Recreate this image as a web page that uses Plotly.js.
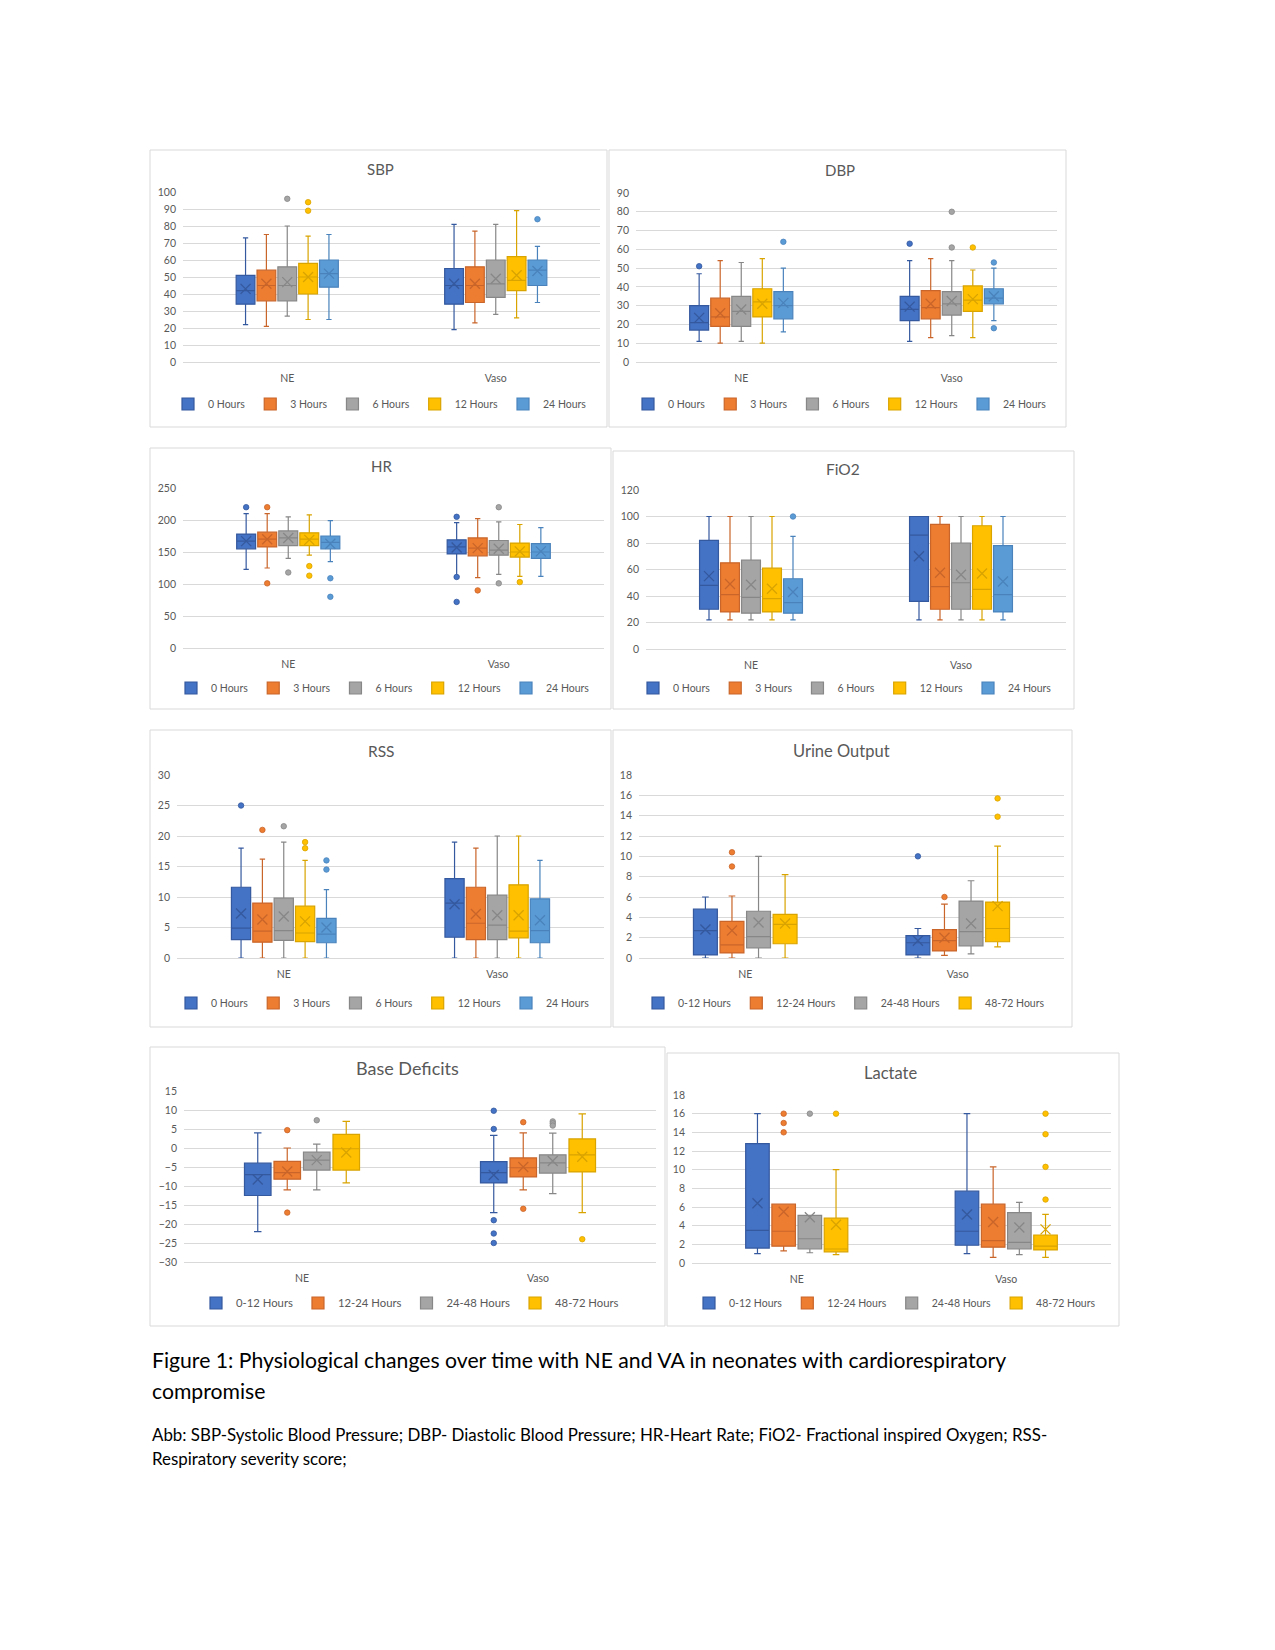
<!DOCTYPE html>
<html><head><meta charset="utf-8">
<script src="https://cdn.plot.ly/plotly-3.0.1.min.js"></script>
<style>html,body{margin:0;padding:0;background:#fff}#chart{width:1275px;height:1650px}</style>
</head><body><div id="chart"></div>
<script>
// ---------- DATA (each inner pair = [NE, Vaso]) ----------
const GROUPS = ['NE', 'Vaso'];
const HOURS5 = ['0 Hours', '3 Hours', '6 Hours', '12 Hours', '24 Hours'];
const HOURS4 = ['0-12 Hours', '12-24 Hours', '24-48 Hours', '48-72 Hours'];

const SBP_LOW  = [[22,19],[21,23],[27,28],[25,26],[25,35]];
const SBP_Q1   = [[34,34],[36,35],[36,38],[40,42],[44,45]];
const SBP_MED  = [[42,45],[45,45],[45,46],[50,48],[52,54]];
const SBP_Q3   = [[51,55],[54,56],[56,60],[58,62],[60,60]];
const SBP_HIGH = [[73,81],[75,77],[80,81],[74,89],[75,68]];
const SBP_MEAN = [[43,46],[46,46],[47,49],[50,51],[52,53.5]];
const SBP_OUT  = [[[],[]],[[],[]],[[96],[]],[[94,89],[]],[[],[84]]];

const DBP_LOW  = [[11,11],[10,13],[11,14],[10,13],[16,22]];
const DBP_Q1   = [[17,22],[19,23],[19,25],[24,27],[23,31]];
const DBP_MED  = [[21,28],[24,29],[27,31],[32,33],[30,34]];
const DBP_Q3   = [[30,35],[34,38],[35,37.5],[39,40.5],[37.5,39]];
const DBP_HIGH = [[47,54],[54,55],[53,54],[55,49],[50,50]];
const DBP_MEAN = [[23.5,29.5],[26,31],[28,32.5],[31,33.5],[31.5,35]];
const DBP_OUT  = [[[51],[63]],[[],[]],[[],[80,61]],[[],[61]],[[64],[53,18]]];

const HR_LOW  = [[123,112],[125,110],[140,115],[145,112],[135,112]];
const HR_Q1   = [[155,147],[158,144],[160,145],[160,142],[155,140]];
const HR_MED  = [[167,158],[170,156],[172,153],[170,150],[165,150]];
const HR_Q3   = [[178,169],[181,172],[183,168],[180,164],[175,163]];
const HR_HIGH = [[210,196],[210,202],[205,197],[208,193],[199,188]];
const HR_MEAN = [[167,157],[170,156],[172,155],[169,151],[163,151]];
const HR_OUT  = [[[220],[205,111,72]],[[220,101],[90]],[[118],[220,101]],[[128,113],[103]],[[109,80],[]]];

const FIO2_LOW  = [[22,22],[22,22],[22,22],[22,22],[22,22]];
const FIO2_Q1   = [[30,36],[28,30],[27,30],[28,30],[27,28]];
const FIO2_MED  = [[48,86],[41,47],[39,50],[38,45],[35,41]];
const FIO2_Q3   = [[82,100],[65,94],[67,80],[61,93],[53,78]];
const FIO2_HIGH = [[100,100],[100,100],[100,100],[100,100],[85,100]];
const FIO2_MEAN = [[55,70],[49,57.5],[48.5,56],[45.5,57],[43,51]];
const FIO2_OUT  = [[[],[]],[[],[]],[[],[]],[[],[]],[[100],[]]];

const RSS_LOW  = [[0,0],[0,0],[0,0],[0,0],[0,0]];
const RSS_Q1   = [[3,3.4],[2.6,3],[2.9,3],[2.7,3.3],[2.5,2.5]];
const RSS_MED  = [[4.9,9],[4.4,5.7],[4.5,5.4],[4.1,4.4],[3.9,4.5]];
const RSS_Q3   = [[11.6,13],[9,11.6],[9.8,10.3],[8.5,12],[6.5,9.7]];
const RSS_HIGH = [[18,19],[16.2,18],[19,20],[16,20],[11.2,16]];
const RSS_MEAN = [[7.3,8.8],[6.3,7.2],[6.8,7],[6,7],[5,6.2]];
const RSS_OUT  = [[[25],[]],[[21],[]],[[21.6],[]],[[19,18],[]],[[16,14.5],[]]];

const URINE_LOW  = [[0,0],[0,0.25],[0,0.4],[0,1.1]];
const URINE_Q1   = [[0.3,0.3],[0.5,0.7],[1,1.2],[1.4,1.6]];
const URINE_MED  = [[2.7,1.5],[1.3,1.7],[2.1,2.6],[3.3,2.9]];
const URINE_Q3   = [[4.8,2.2],[3.6,2.8],[4.6,5.6],[4.3,5.5]];
const URINE_HIGH = [[6,2.9],[6.1,5.3],[10,7.6],[8.2,11]];
const URINE_MEAN = [[2.8,1.7],[2.7,2],[3.5,3.4],[3.4,5.1]];
const URINE_OUT  = [[[],[10]],[[10.4,9],[6]],[[],[]],[[],[15.7,13.9]]];

const BD_LOW  = [[-22,-17],[-11,-11],[-11,-12],[-9.2,-17]];
const BD_Q1   = [[-12.5,-9.2],[-8.2,-7.6],[-5.8,-6.6],[-5.8,-6.3]];
const BD_MED  = [[-7,-6.5],[-6.5,-5.2],[-3.2,-3.9],[-0.2,-1.8]];
const BD_Q3   = [[-4,-3.6],[-3.5,-2.6],[-1.1,-1.8],[3.6,2.4]];
const BD_HIGH = [[4,3.3],[0,4],[1,3.9],[7,9]];
const BD_MEAN = [[-8.3,-7.1],[-6.2,-5],[-3.2,-3.4],[-1.2,-2.3]];
const BD_OUT  = [[[],[9.8,5,-19,-22.5,-25]],[[4.7,-17],[6.8,-16]],[[7.3],[7,6.5,5.9]],[[],[-24]]];

const LAC_LOW  = [[1,1],[1.3,0.6],[1.1,0.9],[0.9,0.6]];
const LAC_Q1   = [[1.6,1.9],[1.8,1.7],[1.5,1.5],[1.2,1.4]];
const LAC_MED  = [[3.5,3.4],[3.4,2.4],[2.6,2.2],[1.5,1.8]];
const LAC_Q3   = [[12.8,7.7],[6.3,6.3],[5.1,5.4],[4.8,3]];
const LAC_HIGH = [[16,16],[6.3,10.3],[5.1,6.5],[10,5.2]];
const LAC_MEAN = [[6.4,5.2],[5.5,4.4],[4.9,3.8],[4.1,3.6]];
const LAC_OUT  = [[[],[]],[[16,15,14],[]],[[16],[]],[[16],[16,13.8,10.3,6.8]]];

// ---------- STYLE / LAYOUT ----------
const FILL = ['#4472C4', '#ED7D31', '#A5A5A5', '#FFC000', '#5B9BD5'];
const LINE = ['#35599E', '#C9652A', '#878787', '#D9A300', '#4A83BC'];
const W = 1275, H = 1650;
const FONT = 'Lato, "Open Sans", sans-serif';
const TXT = '#595959', GRID = '#D9D9D9';

const panels = [
  {title:'SBP', names:HOURS5, d:[SBP_LOW,SBP_Q1,SBP_MED,SBP_Q3,SBP_HIGH,SBP_MEAN,SBP_OUT],
   plot:[183,600,192,362], frame:[150,607,150,427], t:[380,169], leg:[380,404], yr:[0,100], dt:10, ts:15, ls:10.5},
  {title:'DBP', names:HOURS5, d:[DBP_LOW,DBP_Q1,DBP_MED,DBP_Q3,DBP_HIGH,DBP_MEAN,DBP_OUT],
   plot:[636,1057,193,362], frame:[609,1066,150,427], t:[840,170], leg:[840,404], yr:[0,90], dt:10, ts:15, ls:10.5},
  {title:'HR', names:HOURS5, d:[HR_LOW,HR_Q1,HR_MED,HR_Q3,HR_HIGH,HR_MEAN,HR_OUT],
   plot:[183,604,488,648], frame:[150,611,448,709], t:[381,466], leg:[383,688], yr:[0,250], dt:50, ts:15, ls:10.5},
  {title:'FiO2', names:HOURS5, d:[FIO2_LOW,FIO2_Q1,FIO2_MED,FIO2_Q3,FIO2_HIGH,FIO2_MEAN,FIO2_OUT],
   plot:[646,1066,490,649], frame:[613,1074,451,709], t:[843,469], leg:[845,688], yr:[0,120], dt:20, ts:15.5, ls:10.5},
  {title:'RSS', names:HOURS5, d:[RSS_LOW,RSS_Q1,RSS_MED,RSS_Q3,RSS_HIGH,RSS_MEAN,RSS_OUT],
   plot:[177,604,775,958], frame:[150,611,730,1027], t:[381,751], leg:[383,1003], yr:[0,30], dt:5, ts:15.5, ls:10.5},
  {title:'Urine Output', names:HOURS4, d:[URINE_LOW,URINE_Q1,URINE_MED,URINE_Q3,URINE_HIGH,URINE_MEAN,URINE_OUT],
   plot:[639,1064,775,958], frame:[613,1072,730,1027], t:[841,751], leg:[844,1003], yr:[0,18], dt:2, ts:16.5, ls:10.5},
  {title:'Base Deficits', names:HOURS4, d:[BD_LOW,BD_Q1,BD_MED,BD_Q3,BD_HIGH,BD_MEAN,BD_OUT],
   plot:[184,656,1091,1262], frame:[150,665,1047,1326], t:[407,1068], leg:[410,1303], yr:[-30,15], dt:5, ts:18, ls:11.3},
  {title:'Lactate', names:HOURS4, d:[LAC_LOW,LAC_Q1,LAC_MED,LAC_Q3,LAC_HIGH,LAC_MEAN,LAC_OUT],
   plot:[692,1111,1095,1263], frame:[667,1119,1053,1326], t:[890,1073], leg:[895,1303], yr:[0,18], dt:2, ts:16.5, ls:10.5}
];

const traces = [], shapes = [], annotations = [];
const layout = {
  width: W, height: H, margin: {l:0, r:0, t:0, b:0},
  paper_bgcolor: '#fff', plot_bgcolor: '#fff',
  font: {family: FONT, color: TXT, size: 11},
  showlegend: true, boxmode: 'overlay', hovermode: false
};

panels.forEach((p, k) => {
  const n = k + 1, ax = n === 1 ? '' : String(n);
  const xa = 'x' + ax, ya = 'y' + ax, lg = 'legend' + ax;
  const [LOW, Q1, MED, Q3, HIGH, MEAN, OUT] = p.d;
  const ns = p.names.length, slot = 0.5 / ns;
  p.names.forEach((name, s) => {
    const off = -0.25 + slot * (s + 0.5);
    const xs = GROUPS.map((g, gi) => gi + off);
    traces.push({
      type: 'box', name: name, x: xs,
      q1: Q1[s], median: MED[s], q3: Q3[s], lowerfence: LOW[s], upperfence: HIGH[s],
      width: slot * 0.9, whiskerwidth: 0.28, boxpoints: false,
      fillcolor: FILL[s], line: {color: LINE[s], width: 1.2},
      xaxis: xa, yaxis: ya, legend: lg, legendgroup: lg + name, hoverinfo: 'skip'
    });
    traces.push({
      type: 'scatter', mode: 'markers', x: xs, y: MEAN[s], showlegend: false,
      marker: {symbol: 'x-thin', size: 10, line: {width: 1.3, color: LINE[s]}},
      xaxis: xa, yaxis: ya, hoverinfo: 'skip'
    });
    const ox = [], oy = [];
    GROUPS.forEach((g, gi) => OUT[s][gi].forEach(v => { ox.push(gi + off); oy.push(v); }));
    traces.push({
      type: 'scatter', mode: 'markers', x: ox, y: oy, showlegend: false,
      marker: {symbol: 'circle', size: 5.5, color: FILL[s], line: {width: 0.8, color: LINE[s]}},
      xaxis: xa, yaxis: ya, hoverinfo: 'skip'
    });
  });
  const [x0, x1, y0, y1] = p.plot;
  layout['xaxis' + ax] = {
    domain: [x0 / W, x1 / W], anchor: ya, range: [-0.5, 1.5],
    tickmode: 'array', tickvals: [0, 1], ticktext: GROUPS,
    showgrid: false, zeroline: false, showline: true, linecolor: GRID, linewidth: 1,
    ticks: '', ticklabelstandoff: 6, tickfont: {size: 10.5, color: TXT, family: FONT}, fixedrange: true
  };
  layout['yaxis' + ax] = {
    domain: [1 - y1 / H, 1 - y0 / H], anchor: xa, range: p.yr, dtick: p.dt, tick0: 0,
    showgrid: true, gridcolor: GRID, gridwidth: 1, zeroline: false, showline: false,
    ticks: '', ticklabelstandoff: 6, tickfont: {size: 10.5, color: TXT, family: FONT}, fixedrange: true
  };
  layout[lg] = {
    orientation: 'h', x: p.leg[0] / W, y: 1 - p.leg[1] / H, xanchor: 'center', yanchor: 'middle',
    xref: 'paper', yref: 'paper', bgcolor: 'rgba(0,0,0,0)',
    font: {size: p.ls, color: TXT, family: FONT}, itemwidth: 30, traceorder: 'normal'
  };
  const [fx0, fx1, fy0, fy1] = p.frame;
  shapes.push({type: 'rect', xref: 'paper', yref: 'paper',
    x0: fx0 / W, x1: fx1 / W, y0: 1 - fy1 / H, y1: 1 - fy0 / H,
    line: {color: GRID, width: 1}, fillcolor: 'rgba(0,0,0,0)', layer: 'below'});
  annotations.push({text: p.title, xref: 'paper', yref: 'paper', x: p.t[0] / W, y: 1 - p.t[1] / H,
    xanchor: 'center', yanchor: 'middle', showarrow: false, font: {size: p.ts, color: TXT, family: FONT}});
});

const CAPTION = [
  ['Figure 1: Physiological changes over time with NE and VA in neonates with cardiorespiratory', 1360, 21.2],
  ['compromise', 1391, 21.2],
  ['Abb: SBP-Systolic Blood Pressure; DBP- Diastolic Blood Pressure; HR-Heart Rate; FiO2- Fractional inspired Oxygen; RSS-', 1434, 16.9],
  ['Respiratory severity score;', 1458, 16.9]
];
CAPTION.forEach(([t, y, sz]) => annotations.push({
  text: t, xref: 'paper', yref: 'paper', x: 150 / W, y: 1 - y / H, xanchor: 'left', yanchor: 'middle',
  align: 'left', showarrow: false, font: {size: sz, color: '#000', family: FONT}
}));

layout.shapes = shapes;
layout.annotations = annotations;
Plotly.newPlot('chart', traces, layout, {staticPlot: true, displayModeBar: false});
</script></body></html>
